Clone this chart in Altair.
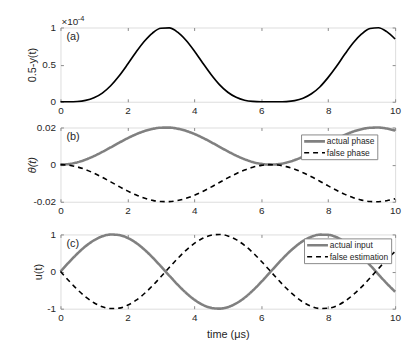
import altair as alt
import pandas as pd

# time axis (microseconds)
t = [0, 0.25, 0.5, 0.75, 1.0, 1.25, 1.5, 1.75, 2.0, 2.25, 2.5, 2.75, 3.0, 3.25,
     3.5, 3.75, 4.0, 4.25, 4.5, 4.75, 5.0, 5.25, 5.5, 5.75, 6.0, 6.25, 6.5,
     6.75, 7.0, 7.25, 7.5, 7.75, 8.0, 8.25, 8.5, 8.75, 9.0, 9.25, 9.5, 9.75, 10.0]

# panel (a): 0.5 - y(t), in units of 1e-4
y_a = [0, 0.0002, 0.0037, 0.018, 0.053, 0.117, 0.216, 0.347, 0.501, 0.663,
       0.811, 0.925, 0.990, 0.994, 0.937, 0.828, 0.684, 0.523, 0.367, 0.231,
       0.128, 0.060, 0.021, 0.005, 0.0004, 0.0, 0.0001, 0.003, 0.015, 0.047,
       0.107, 0.199, 0.328, 0.477, 0.642, 0.794, 0.913, 0.986, 0.997, 0.944, 0.845]

# panel (b): theta(t)
theta_actual = [0, 0.00031, 0.00122, 0.00268, 0.0046, 0.00685, 0.00929, 0.01178,
                0.01416, 0.01628, 0.01801, 0.01924, 0.0199, 0.01994, 0.01936,
                0.0182, 0.01654, 0.01446, 0.01211, 0.00962, 0.00716, 0.00488,
                0.00291, 0.00138, 0.0004, 0.0, 0.00023, 0.00107, 0.00246,
                0.00433, 0.00653, 0.00893, 0.01146, 0.01381, 0.01602, 0.01782,
                0.01911, 0.01986, 0.01997, 0.01943, 0.01839]
theta_false = [-v for v in theta_actual]

# panel (c): u(t)
u_actual = [0, 0.247, 0.479, 0.682, 0.841, 0.949, 0.997, 0.984, 0.909, 0.778,
            0.598, 0.382, 0.141, -0.108, -0.351, -0.572, -0.757, -0.895, -0.978,
            -0.999, -0.959, -0.859, -0.706, -0.508, -0.279, -0.033, 0.215, 0.451,
            0.657, 0.824, 0.938, 0.994, 0.989, 0.925, 0.798, 0.622, 0.412, 0.174,
            -0.075, -0.319, -0.544]
u_false = [-v for v in u_actual]

x_ticks = [0, 2, 4, 6, 8, 10]
a_ticks = [0, 0.5, 1]
b_ticks = [-0.02, 0, 0.02]
c_ticks = [-1, 0, 1]
b_names = ["actual phase", "false phase"]
c_names = ["actual input", "false estimation"]

FONT = "Liberation Sans"
TXT = "#262626"
AX = "#8a8a8a"
W, H = 338, 75
GRAY = "#808080"

xsc = alt.Scale(domain=[0, 10], nice=False, zero=False)
LABEL_EXPR = "replace(format(datum.value, '~g'), '\u2212', '-')"


def x_axis(title=None):
    kw = dict(orient="bottom", values=x_ticks, offset=-3, tickSize=3, domain=False,
              grid=False, labelPadding=4, labelFontSize=10, labelColor=TXT,
              tickColor=AX, labelFont=FONT, labelFlush=False)
    if title:
        kw.update(title=title, titleFont=FONT, titleFontSize=11, titleColor=TXT,
                  titleFontWeight="normal", titleY=29, titleBaseline="middle")
    else:
        kw.update(title=None)
    return alt.Axis(**kw)


def y_axis(title, ticks, tx, italic=False):
    return alt.Axis(orient="left", values=ticks, offset=-3, tickSize=3, domain=False,
                    grid=False, labelPadding=5, labelFontSize=10, labelColor=TXT,
                    tickColor=AX, labelFont=FONT, labelExpr=LABEL_EXPR, labelFlush=False,
                    title=title, titleFont=FONT, titleFontSize=11, titleColor=TXT,
                    titleFontWeight="normal", titleX=tx, titleY=H / 2,
                    titleBaseline="middle", titleAngle=270,
                    titleFontStyle="italic" if italic else "normal")


def mirror(df, ysc, yticks, yfield):
    return alt.Chart(df).mark_line(strokeOpacity=0).encode(
        x=alt.X("t:Q", scale=xsc, axis=alt.Axis(orient="top", values=x_ticks, labels=False,
                                                title=None, offset=-3, tickSize=3,
                                                domain=False, grid=False, tickColor=AX)),
        y=alt.Y(f"{yfield}:Q", scale=ysc, axis=alt.Axis(orient="right", values=yticks,
                                                   labels=False, title=None, offset=-3,
                                                   tickSize=3, domain=False, grid=False,
                                                   tickColor=AX)),
    )


def panel_label(txt):
    return alt.Chart(pd.DataFrame({"lab": [txt]})).mark_text(
        align="left", baseline="middle", font=FONT, fontSize=11, color=TXT
    ).encode(x=alt.value(6), y=alt.value(10), text="lab:N")


# ---- panel (a)
dfa = pd.DataFrame({"t": t, "v": y_a})
ysc_a = alt.Scale(domain=[0, 1], nice=False)
line_a = alt.Chart(dfa).mark_line(color="black", strokeWidth=1.7, interpolate="monotone").encode(
    x=alt.X("t:Q", scale=xsc, axis=x_axis()),
    y=alt.Y("v:Q", scale=ysc_a, axis=y_axis("0.5-y(t)", a_ticks, -31)),
)
exp_df = pd.DataFrame({"base": ["\u00d710"], "sup": ["-4"]})
exp_base = alt.Chart(exp_df).mark_text(align="left", baseline="alphabetic", font=FONT,
                                       fontSize=10, color=TXT).encode(
    x=alt.value(1), y=alt.value(-3), text="base:N")
exp_sup = alt.Chart(exp_df).mark_text(align="left", baseline="alphabetic", font=FONT,
                                      fontSize=7.5, color=TXT).encode(
    x=alt.value(17.5), y=alt.value(-7), text="sup:N")
chart_a = alt.layer(line_a, mirror(dfa, ysc_a, a_ticks, "v"), panel_label("(a)"),
                    exp_base, exp_sup).resolve_axis(x="independent", y="independent").properties(
    width=W, height=H)


def legend(lx, ly):
    return alt.Legend(orient="none", legendX=lx, legendY=ly, title=None, fillColor="white",
                      strokeColor=AX, padding=2, symbolType="M-1.1,0H4.9", symbolSize=49,
                      labelFont=FONT, labelFontSize=8.5, labelColor=TXT, labelOffset=14,
                      rowPadding=1, cornerRadius=0)


def two_series(tlist, v1, v2, names, field, ysc, yticks, ytitle, tx, lx, ly, italic, xtitle):
    df = pd.DataFrame({
        "t": tlist + tlist,
        "v": v1 + v2,
        field: [names[0]] * len(tlist) + [names[1]] * len(tlist),
    })
    lg = legend(lx, ly)
    lines = alt.Chart(df).mark_line(interpolate="monotone").encode(
        x=alt.X("t:Q", scale=xsc, axis=x_axis(xtitle)),
        y=alt.Y("v:Q", scale=ysc, axis=y_axis(ytitle, yticks, tx, italic)),
        color=alt.Color(f"{field}:N", scale=alt.Scale(domain=names, range=[GRAY, "black"]),
                        legend=lg),
        strokeDash=alt.StrokeDash(f"{field}:N", scale=alt.Scale(domain=names,
                                                                 range=[[1, 0], [5, 4]]),
                                  legend=lg),
        strokeWidth=alt.StrokeWidth(f"{field}:N", scale=alt.Scale(domain=names,
                                                                   range=[2.6, 1.6]),
                                    legend=lg),
    )
    return lines, df


lines_b, dfb = two_series(t, theta_actual, theta_false, b_names, "sb",
                          alt.Scale(domain=[-0.02, 0.02], nice=False), b_ticks,
                          "\u03b8(t)", -31, 243, 7, True, None)
chart_b = alt.layer(lines_b, mirror(dfb, alt.Scale(domain=[-0.02, 0.02], nice=False), b_ticks, "v"),
                    panel_label("(b)")).resolve_axis(x="independent", y="independent").properties(
    width=W, height=H)

lines_c, dfc = two_series(t, u_actual, u_false, c_names, "sc",
                          alt.Scale(domain=[-1, 1], nice=False), c_ticks,
                          "u(t)", -25, 246, 4, False, "time (\u03bcs)")
# transparent copy of the panel label above the plot: only widens the gap above (c)
spacer_c = alt.Chart(pd.DataFrame({"lab": ["(c)"]})).mark_text(
    opacity=0, baseline="bottom", font=FONT, fontSize=11
).encode(x=alt.value(0), y=alt.value(-1), text="lab:N")
chart_c = alt.layer(lines_c, mirror(dfc, alt.Scale(domain=[-1, 1], nice=False), c_ticks, "v"),
                    panel_label("(c)"), spacer_c).resolve_axis(
    x="independent", y="independent").properties(width=W, height=H)

chart = alt.vconcat(chart_a, chart_b, chart_c, spacing=5).resolve_scale(
    color="independent", strokeDash="independent", strokeWidth="independent"
).configure_view(stroke=AX, strokeWidth=1).configure(
    background="white", padding={"left": 18, "top": 4, "right": 5, "bottom": 5}
)

chart.save("out.html", embed_options={"renderer": "svg", "actions": False})
